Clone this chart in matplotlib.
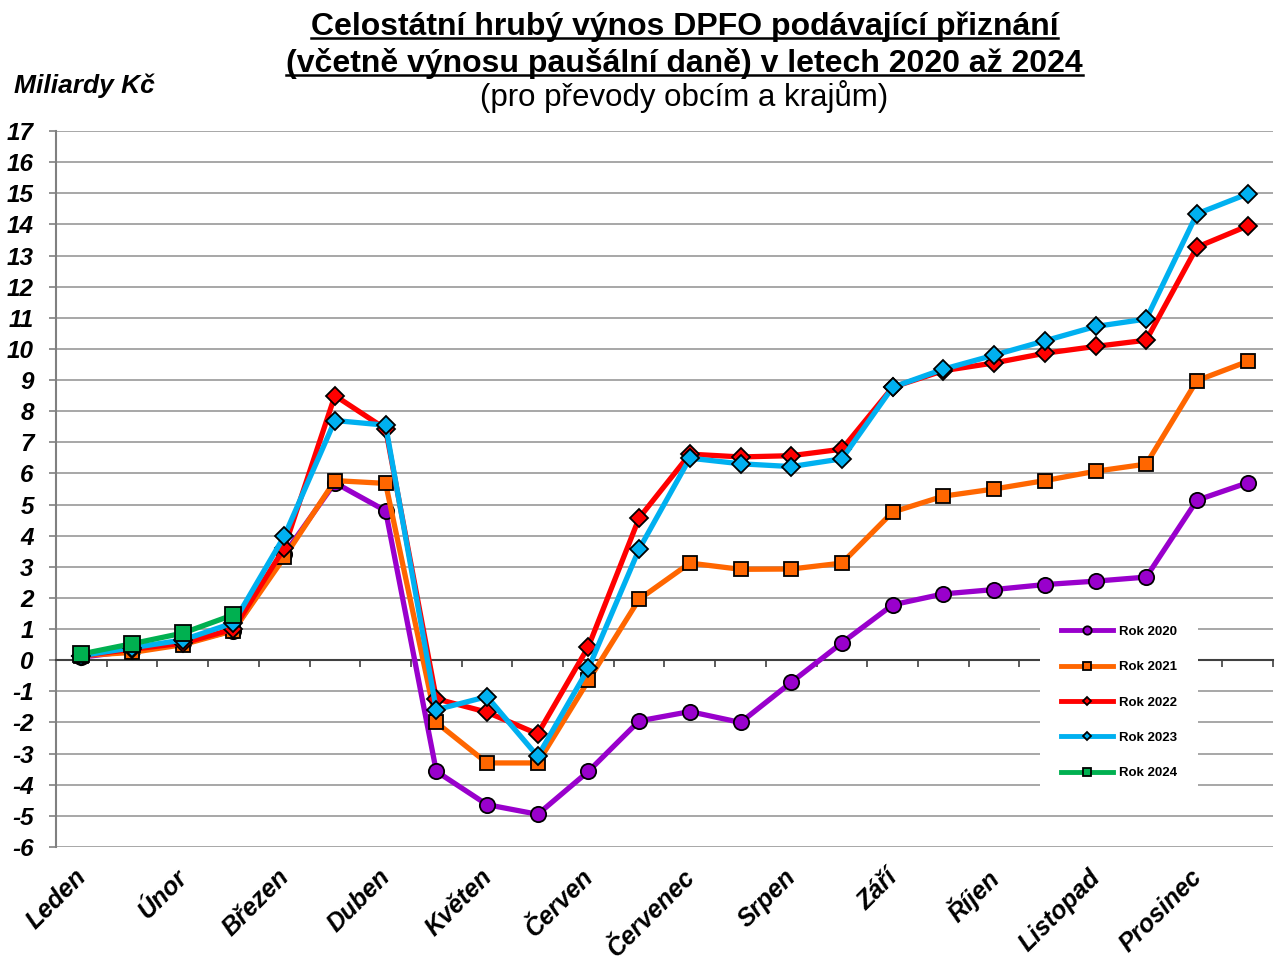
import numpy as np
import matplotlib
matplotlib.use('Agg')
import matplotlib.pyplot as plt
from matplotlib.lines import Line2D

plt.rcParams['font.family'] = ['Liberation Sans', 'DejaVu Sans']
plt.rcParams['axes.unicode_minus'] = False

# two values per month (mid-month and end of month), in bn CZK
months = ['Leden', 'Únor', 'Březen', 'Duben', 'Květen', 'Červen',
          'Červenec', 'Srpen', 'Září', 'Říjen', 'Listopad', 'Prosinec']

rok_2020 = [0.1, 0.3, 0.55, 0.95, 3.4, 5.7, 4.8, -3.57, -4.64, -4.95, -3.57, -1.95,
            -1.65, -2.0, -0.71, 0.56, 1.78, 2.13, 2.27, 2.43, 2.54, 2.67, 5.14, 5.7]
rok_2021 = [0.15, 0.25, 0.5, 0.95, 3.3, 5.77, 5.68, -2.0, -3.3, -3.3, -0.65, 1.96,
            3.12, 2.92, 2.93, 3.12, 4.76, 5.27, 5.5, 5.77, 6.07, 6.3, 8.98, 9.6]
rok_2022 = [0.15, 0.35, 0.55, 1.0, 3.6, 8.5, 7.43, -1.24, -1.67, -2.37, 0.44, 4.57,
            6.62, 6.53, 6.57, 6.78, 8.77, 9.3, 9.55, 9.86, 10.08, 10.28, 13.27, 13.95]
rok_2023 = [0.15, 0.4, 0.65, 1.2, 3.98, 7.7, 7.55, -1.59, -1.17, -3.09, -0.26, 3.57,
            6.49, 6.31, 6.22, 6.47, 8.77, 9.35, 9.8, 10.26, 10.72, 10.96, 14.34, 14.98]
rok_2024 = [0.2, 0.53, 0.87, 1.46] + [np.nan] * 20

series = [
    ('Rok 2020', rok_2020, '#9900CC', 'o', 11),
    ('Rok 2021', rok_2021, '#FF6600', 's', 9.5),
    ('Rok 2022', rok_2022, '#FF0000', 'D', 9.5),
    ('Rok 2023', rok_2023, '#00B0F0', 'D', 9.5),
    ('Rok 2024', rok_2024, '#00B050', 's', 11.5),
]
legend_marker = {'o': 6, 's': 6, 'D': 4.5}

fig = plt.figure(figsize=(12.77, 9.63), dpi=100)
ax = fig.add_axes([56 / 1277, 116 / 963, 1217 / 1277, 716 / 963])

x = np.arange(24)
for name, vals, color, mk, ms in series:
    ax.plot(x, vals, color=color, lw=3.8, marker=mk, markersize=ms,
            markerfacecolor=color, markeredgecolor='black', markeredgewidth=1.3,
            solid_joinstyle='round', zorder=3)

ax.set_xlim(-0.5, 23.5)
ax.set_ylim(-6, 17)
ax.set_yticks(range(-6, 18))
ax.grid(axis='y', color='#a0a0a0', lw=1.3, zorder=0)
ax.set_axisbelow(True)

for s in ['top', 'right']:
    ax.spines[s].set_visible(False)
ax.spines['left'].set_color('#808080')
ax.spines['left'].set_linewidth(1.5)
ax.spines['bottom'].set_position(('data', 0))
ax.spines['bottom'].set_color('#404040')
ax.spines['bottom'].set_linewidth(1.5)

ax.set_xticks(np.arange(-0.5, 24, 1))
ax.set_xticklabels([])
ax.tick_params(axis='x', direction='out', length=5, width=1.2, color='#404040')
ax.tick_params(axis='y', direction='out', length=5, width=1.2, color='#808080', pad=11)
for lab in ax.get_yticklabels():
    lab.set_fontsize(17.5)
    lab.set_fontweight('bold')
    lab.set_fontstyle('italic')

for i, m in enumerate(months):
    ax.text(2 * i + 0.02, -0.037, m, transform=ax.get_xaxis_transform(),
            rotation=45, rotation_mode='anchor', ha='right', va='center',
            fontsize=18, fontweight='bold', fontstyle='italic')

handles = [Line2D([], [], color=c, lw=3.5, marker=mk, markersize=legend_marker[mk],
                  markerfacecolor=c, markeredgecolor='black', markeredgewidth=1.3)
           for _, _, c, mk, _ in series]
leg = ax.legend(handles, [s[0] for s in series], loc='upper left',
                bbox_to_anchor=(1033 / 1277, 1 - 598 / 963), bbox_transform=fig.transFigure,
                frameon=True, fancybox=False, framealpha=1, edgecolor='none',
                facecolor='white', handlelength=4, handletextpad=0.4,
                labelspacing=1.75, borderpad=1.6, prop={'weight': 'bold', 'size': 9.5})
leg.set_zorder(5)

fig.text(14 / 1277, 1 - 93 / 963, 'Miliardy Kč', fontsize=19, fontweight='bold',
         fontstyle='italic', ha='left', va='baseline')

t1 = fig.text(0.536, 1 - 35 / 963, 'Celostátní hrubý výnos DPFO podávající přiznání',
              fontsize=23, fontweight='bold', ha='center', va='baseline')
t2 = fig.text(0.536, 1 - 72 / 963, '(včetně výnosu paušální daně) v letech 2020 až 2024',
              fontsize=23, fontweight='bold', ha='center', va='baseline')
fig.text(0.536, 1 - 106 / 963, '(pro převody obcím a krajům)', fontsize=22.5,
         ha='center', va='baseline')

# underline the two bold title lines
fig.canvas.draw()
r = fig.canvas.get_renderer()
for t, yb in [(t1, 35), (t2, 72)]:
    bb = t.get_window_extent(r)
    yl = 1 - (yb + 3) / 963
    fig.add_artist(Line2D([bb.x0 / 1277, bb.x1 / 1277], [yl, yl],
                          transform=fig.transFigure, color='black', lw=1.8))

fig.savefig('out.png', dpi=100)
